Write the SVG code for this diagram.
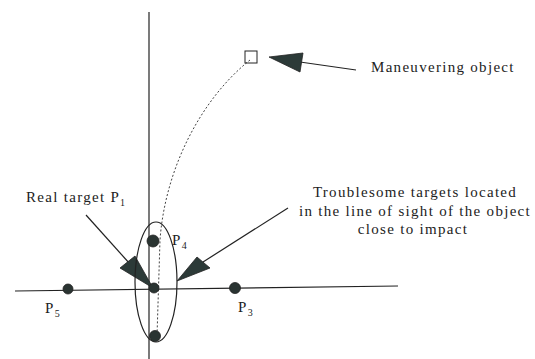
<svg xmlns="http://www.w3.org/2000/svg" width="535" height="359" viewBox="0 0 535 359">
<style>
.ln{stroke:#222;stroke-width:1.2;fill:none}
.dot{fill:#2a3432;stroke:#222;stroke-width:0.8}
.ah{fill:#2c3a38;stroke:#222;stroke-width:0.8}
text{font-family:"Liberation Serif","Times New Roman",serif;font-size:15px;letter-spacing:1.3px;fill:#222}
.sub{font-size:10px;letter-spacing:0}
</style>
<rect width="535" height="359" fill="#fff"/>
<g id="axes">
<line class="ln" x1="149" y1="12" x2="149" y2="359"/>
<line class="ln" x1="15" y1="291" x2="398" y2="286"/>
</g>
<g id="connectors">
<path d="M250,60 C200,100 165,170 160,240 L157,336" fill="none" stroke="#444" stroke-width="1" stroke-dasharray="2,2"/>
<line class="ln" x1="300" y1="62" x2="356" y2="70"/>
<polygon class="ah" points="269,57 303,53 300,72"/>
<line class="ln" x1="86" y1="215" x2="130" y2="264"/>
<polygon class="ah" points="120,268 135,256 153,288"/>
<line class="ln" x1="203" y1="262" x2="288" y2="208"/>
<polygon class="ah" points="177,281 197,257 210,268"/>
</g>
<g id="ellipse">
<ellipse class="ln" cx="156" cy="282" rx="21" ry="60"/>
</g>
<g id="object">
<rect x="245" y="51" width="12" height="12" fill="none" stroke="#222" stroke-width="1"/>
<text x="371" y="72">Maneuvering object</text>
</g>
<g id="P1">
<circle class="dot" cx="154" cy="288" r="5"/>
<text x="26" y="202">Real target P<tspan class="sub" dy="4">1</tspan></text>
</g>
<g id="P4">
<circle class="dot" cx="153" cy="241" r="6"/>
<text x="172" y="245">P<tspan class="sub" dy="4">4</tspan></text>
</g>
<g id="P2">
<circle class="dot" cx="155" cy="336" r="5.5"/>
</g>
<g id="P3">
<circle class="dot" cx="235" cy="288" r="5.5"/>
<text x="238" y="312">P<tspan class="sub" dy="4">3</tspan></text>
</g>
<g id="P5">
<circle class="dot" cx="68" cy="289" r="5"/>
<text x="45" y="313">P<tspan class="sub" dy="4">5</tspan></text>
</g>
<g id="troublesome">
<text x="415" y="197" text-anchor="middle">Troublesome targets located</text>
<text x="415" y="216" text-anchor="middle">in the line of sight of the object</text>
<text x="413" y="234" text-anchor="middle">close to impact</text>
</g>
</svg>
